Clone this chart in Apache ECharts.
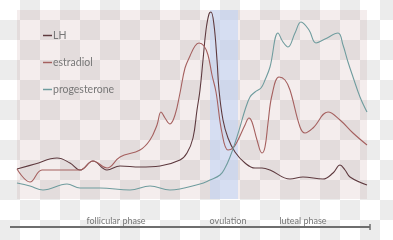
<!DOCTYPE html>
<html>
<head>
<meta charset="utf-8">
<script src="https://cdn.jsdelivr.net/npm/echarts@6/dist/echarts.min.js"></script>
<style>
  html, body { margin: 0; padding: 0; }
  body {
    width: 393px; height: 240px;
    background-color: #fff;
    background-image: conic-gradient(#ececec 0 25%, #fff 0 50%, #ececec 0 75%, #fff 0);
    background-size: 40px 40px;
  }
  #main { width: 393px; height: 240px; }
</style>
</head>
<body>
<div id="main"></div>
<script>
// x = position through the cycle, y = relative hormone level (arbitrary units)
const lhData = [[0,30],[18,35],[40,41],[53,36],[63,29],[76,38],[90,29],[103,33],[123,32],[143,33],[163,39],[170,46],[176,61],[180,89],[183,109],[186,139],[189,169],[192,185],[194,187],[197,174],[200,139],[202,109],[206,79],[211,61],[218,47],[228,36],[238,31],[245,31],[253,29],[273,20],[286,22],[306,20],[316,26],[323,34],[328,29],[333,22],[350,14]];
const estradiolData = [[0,30],[13,17],[25,29],[43,29],[63,29],[76,38],[90,31],[103,42],[123,49],[133,59],[140,74],[144,87],[148,81],[153,75],[158,84],[163,106],[168,131],[173,143],[178,153],[182,156],[187,153],[191,144],[195,124],[199,107],[205,66],[211,49],[216,51],[221,59],[228,74],[232,81],[235,77],[240,59],[245,46],[248,52],[251,76],[255,104],[262,122],[268,119],[273,109],[283,72],[288,66],[296,71],[311,87],[323,79],[336,66],[350,54]];
const progesteroneData = [[0,16],[13,13],[26,9],[50,15],[63,11],[83,11],[113,9],[133,13],[153,9],[183,15],[193,19],[203,24],[208,31],[213,42],[218,56],[223,72],[228,89],[233,102],[238,107],[244,111],[248,119],[253,132],[261,166],[266,157],[271,152],[278,166],[284,177],[292,169],[299,156],[308,160],[321,166],[326,154],[331,137],[336,122],[343,102],[350,87]];
const ovulationRange = [193, 221];
const phaseNames = ['follicular phase', 'ovulation', 'luteal phase'];
const phaseCenters = [99, 211, 286];

const chart = echarts.init(document.getElementById('main'));
const font = 'Lato, "DejaVu Sans", sans-serif';

function line(name, data, color) {
  return {
    name: name,
    type: 'line',
    data: data,
    smooth: 0.4,
    showSymbol: false,
    color: color,
    lineStyle: { width: 1.1, color: color }
  };
}

const option = {
  animation: false,
  grid: {
    left: 17, top: 10, width: 350, height: 189,
    show: true,
    borderWidth: 0,
    backgroundColor: 'rgba(182,135,135,0.15)'
  },
  xAxis: { type: 'value', min: 0, max: 350, show: false },
  yAxis: { type: 'value', min: 0, max: 189, show: false },
  legend: {
    orient: 'vertical',
    left: 43, top: 30,
    padding: 0,
    itemWidth: 9, itemHeight: 1.5,
    itemGap: 16,
    icon: 'rect',
    textStyle: { color: '#777', fontFamily: font, fontSize: 10.5, padding: [0, 0, 0, -4] },
    data: ['LH', 'estradiol', 'progesterone']
  },
  series: [
    Object.assign(line('LH', lhData, '#5e3a3f'), {
      markArea: {
        silent: true,
        itemStyle: { color: 'rgba(190,210,245,0.55)' },
        data: [[{ xAxis: ovulationRange[0] }, { xAxis: ovulationRange[1] }]]
      }
    }),
    line('estradiol', estradiolData, '#a5605f'),
    line('progesterone', progesteroneData, '#6f9c9e')
  ]
};
chart.setOption(option);

const graphics = [
  { type: 'line', shape: { x1: 10, y1: 227, x2: 370, y2: 227 }, style: { stroke: '#6e6e6e', lineWidth: 2 } },
  { type: 'line', shape: { x1: 370, y1: 224, x2: 370, y2: 230 }, style: { stroke: '#6e6e6e', lineWidth: 1.5 } }
];
phaseNames.forEach((name, i) => {
  const px = chart.convertToPixel({ gridIndex: 0 }, [phaseCenters[i], 0])[0];
  graphics.push({
    type: 'text', x: px, y: 221,
    style: { text: name, fill: '#777', font: '9px ' + font, textAlign: 'center', textVerticalAlign: 'middle' }
  });
});
chart.setOption({ graphic: graphics });
</script>
</body>
</html>
